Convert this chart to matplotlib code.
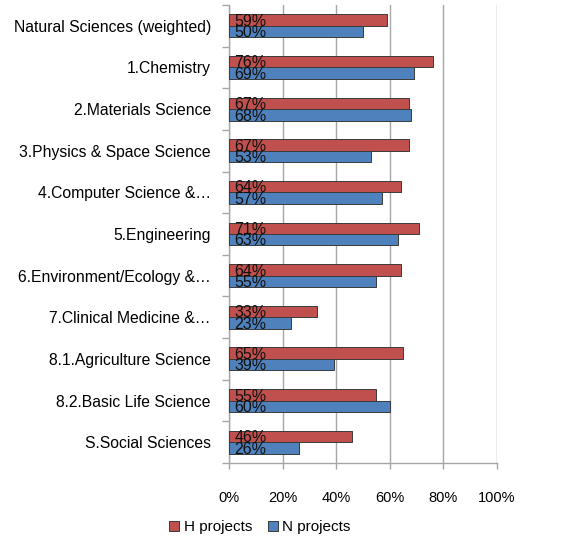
import matplotlib
matplotlib.use("Agg")
import matplotlib.pyplot as plt
import numpy as np
from matplotlib.patches import Patch

categories = [
    "Natural Sciences (weighted)",
    "1.Chemistry",
    "2.Materials Science",
    "3.Physics & Space Science",
    "4.Computer Science &\u2026",
    "5.Engineering",
    "6.Environment/Ecology &\u2026",
    "7.Clinical Medicine &\u2026",
    "8.1.Agriculture Science",
    "8.2.Basic Life Science",
    "S.Social Sciences",
]
h_projects = [59, 76, 67, 67, 64, 71, 64, 33, 65, 55, 46]
n_projects = [50, 69, 68, 53, 57, 63, 55, 23, 39, 60, 26]
x_ticks = [0, 20, 40, 60, 80, 100]

H_COLOR = "#C0504D"
N_COLOR = "#4F81BD"
GRID = "#A6A6A6"

plt.rcParams["font.family"] = ["Liberation Sans", "DejaVu Sans"]

fig = plt.figure(figsize=(5.63, 5.40), dpi=100)
ax = fig.add_axes([229 / 563, 1 - 463 / 540, 268 / 563, 458 / 540])

n = len(categories)
y = np.arange(n)
bh = 0.275

ax.barh(y - bh / 2, h_projects, height=bh, color=H_COLOR,
        edgecolor="#3a3a3a", linewidth=0.7, zorder=3)
ax.barh(y + bh / 2, n_projects, height=bh, color=N_COLOR,
        edgecolor="#3a3a3a", linewidth=0.7, zorder=3)

for i in range(n):
    ax.text(2.0, y[i] - bh / 2 + 0.03, f"{h_projects[i]}%", va="center",
            ha="left", fontsize=11.5, color="#111111", zorder=4)
    ax.text(2.0, y[i] + bh / 2 + 0.03, f"{n_projects[i]}%", va="center",
            ha="left", fontsize=11.5, color="#111111", zorder=4)

ax.set_xlim(0, 100)
ax.set_ylim(n - 0.5, -0.5)

ax.set_xticks(x_ticks)
ax.set_xticklabels([f"{v}%" for v in x_ticks], fontsize=10.5)
ax.xaxis.grid(True, color=GRID, linewidth=1.0, zorder=0)
ax.tick_params(axis="x", length=4, width=1, color=GRID, pad=16)

ax.set_yticks(y)
ax.set_yticklabels(categories, fontsize=11.3)
ax.tick_params(axis="y", which="major", length=0, pad=13)
ax.set_yticks(np.arange(-0.5, n, 1.0), minor=True)
ax.tick_params(axis="y", which="minor", length=5, width=1, color=GRID)

for side in ["top", "right"]:
    ax.spines[side].set_visible(False)
for side in ["left", "bottom"]:
    ax.spines[side].set_color(GRID)
    ax.spines[side].set_linewidth(1.0)

handles = [
    Patch(facecolor=H_COLOR, edgecolor="#3a3a3a", linewidth=0.7, label="H projects"),
    Patch(facecolor=N_COLOR, edgecolor="#3a3a3a", linewidth=0.7, label="N projects"),
]
fig.legend(handles=handles, loc="center", bbox_to_anchor=(260 / 563, 1 - 527 / 540),
           ncol=2, frameon=False, fontsize=11, handlelength=0.65,
           handleheight=0.65, handletextpad=0.3, columnspacing=1.0)

fig.savefig("out.png", dpi=100)
